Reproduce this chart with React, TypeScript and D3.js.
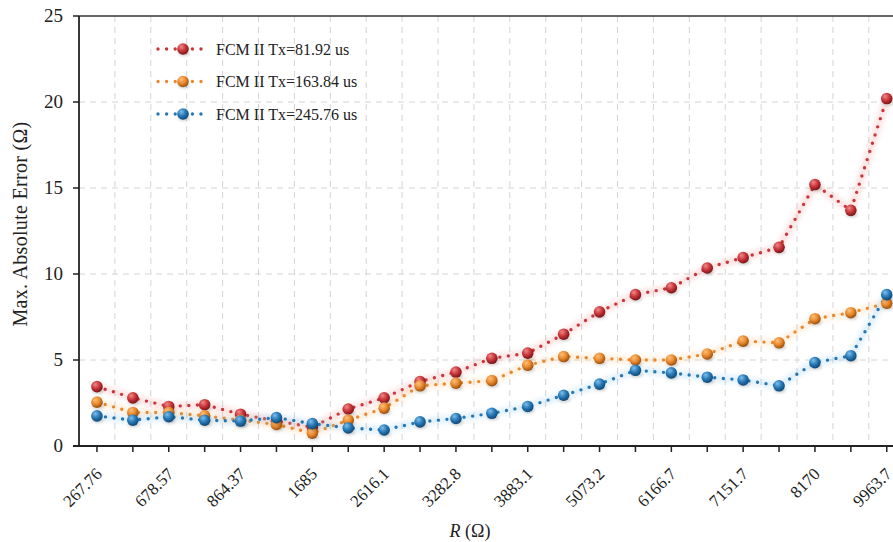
import React from "react";
import * as d3 from "d3";

const categories = ["267.76","","678.57","","864.37","","1685","","2616.1","","3282.8","","3883.1","","5073.2","","6166.7","","7151.7","","8170","","9963.7"];
const seriesNames = ["FCM II Tx=81.92 us","FCM II Tx=163.84 us","FCM II Tx=245.76 us"];
const red = [3.45,2.8,2.3,2.4,1.85,1.45,1.1,2.15,2.8,3.75,4.3,5.1,5.4,6.5,7.8,8.8,9.2,10.35,10.95,11.55,15.2,13.7,20.2];
const orange = [2.55,1.95,1.95,1.75,1.5,1.25,0.75,1.5,2.2,3.5,3.65,3.8,4.7,5.2,5.1,5.0,5.0,5.35,6.1,6.0,7.4,7.75,8.3];
const blue = [1.75,1.5,1.7,1.5,1.45,1.65,1.3,1.05,0.93,1.4,1.6,1.9,2.3,2.95,3.6,4.4,4.25,4.0,3.84,3.5,4.85,5.25,8.8];
const yTicks = [0,5,10,15,20,25];
const colors = ["#c8353a","#e8892e","#2678b5"];
const lightColors = ["#f08a88","#ffc07a","#7fc0ee"];
const darkColors = ["#7a1418","#9a4f0a","#0f4876"];

const W = 893, H = 542;
const left = 79, top = 16, bottom = 446;
const band = 35.9;

export default function App() {
  const series = [red, orange, blue];
  const x = d3.scaleBand<number>().domain(categories.map((_, i) => i)).range([left, left + band * categories.length]).padding(0);
  const cx = (i: number) => (x(i) as number) + x.bandwidth() / 2;
  const y = d3.scaleLinear().domain([0, 25]).range([bottom, top]);
  const line = d3.line<number>().x((_, i) => cx(i)).y((d) => y(d));
  const font = "'Liberation Serif', 'DejaVu Serif', serif";
  const right = left + band * categories.length;

  const Marker = ({ px, py, k }: { px: number; py: number; k: number }) => (
    <g>
      <ellipse cx={px + 1} cy={py + 4} rx={6} ry={3} fill="#000" opacity={0.18} filter="url(#blur2)" />
      <circle cx={px} cy={py} r={5.8} fill={`url(#grad${k})`} />
    </g>
  );

  return (
    <svg width={W} height={H} style={{ position: "absolute", left: 0, top: 0, background: "#fff" }} fontFamily={font}>
      <defs>
        {colors.map((c, k) => (
          <radialGradient key={k} id={`grad${k}`} cx="0.4" cy="0.35" r="0.65" fx="0.35" fy="0.3">
            <stop offset="0%" stopColor={lightColors[k]} />
            <stop offset="55%" stopColor={c} />
            <stop offset="100%" stopColor={darkColors[k]} />
          </radialGradient>
        ))}
        <filter id="blur2" x="-50%" y="-50%" width="200%" height="200%">
          <feGaussianBlur stdDeviation="1.5" />
        </filter>
        <filter id="blur3" x="-10%" y="-10%" width="120%" height="120%">
          <feGaussianBlur stdDeviation="2.5" />
        </filter>
      </defs>
      {categories.map((_, i) => i > 0 ? (
        <line key={"vg" + i} x1={x(i)} x2={x(i)} y1={top} y2={bottom} stroke="#d4d4d4" strokeWidth={1} strokeDasharray="6 5" />
      ) : null)}
      {yTicks.filter((t) => t > 0 && t < 25).map((t) => (
        <line key={"hg" + t} x1={left} x2={right} y1={y(t)} y2={y(t)} stroke="#d4d4d4" strokeWidth={1} strokeDasharray="6 5" />
      ))}
      {series.map((s, k) => (
        <g key={"s" + k}>
          <path d={line(s) as string} fill="none" stroke={lightColors[k]} strokeWidth={7} opacity={0.25} filter="url(#blur3)" />
          <path d={line(s) as string} fill="none" stroke={colors[k]} strokeWidth={3.4} strokeDasharray="0 8.6" strokeLinecap="round" />
        </g>
      ))}
      {series.map((s, k) => (
        <g key={"m" + k}>
          {s.map((v, i) => <Marker key={i} px={cx(i)} py={y(v)} k={k} />)}
        </g>
      ))}
      <line x1={left} x2={right} y1={top} y2={top} stroke="#333" strokeWidth={1.5} />
      <line x1={left} x2={left} y1={top} y2={bottom} stroke="#222" strokeWidth={1.8} />
      <line x1={left - 6} x2={right} y1={bottom} y2={bottom} stroke="#222" strokeWidth={1.8} />
      {yTicks.map((t) => (
        <g key={"yt" + t}>
          <line x1={left - 6} x2={left} y1={y(t)} y2={y(t)} stroke="#222" strokeWidth={1.5} />
          <text x={left - 16} y={y(t)} dy="0.33em" textAnchor="end" fontSize={19} fill="#222">{t}</text>
        </g>
      ))}
      {categories.map((c, i) => (
        <g key={"xt" + i}>
          <line x1={cx(i)} x2={cx(i)} y1={bottom} y2={bottom + 6} stroke="#222" strokeWidth={1.5} />
          {c ? (
            <text transform={`translate(${cx(i) + 6},${bottom + 29}) rotate(-45)`} textAnchor="end" fontSize={17} fill="#222">{c}</text>
          ) : null}
        </g>
      ))}
      <text transform={`translate(27,224) rotate(-90)`} textAnchor="middle" fontSize={20} letterSpacing={0.3} fill="#222">Max. Absolute Error (Ω)</text>
      <text x={470} y={537} textAnchor="middle" fontSize={18} fill="#222"><tspan fontStyle="italic">R</tspan> (Ω)</text>
      {seriesNames.map((n, k) => {
        const ly = 49 + k * 32.5;
        return (
          <g key={"lg" + k}>
            <line x1={158} x2={208} y1={ly} y2={ly} stroke={colors[k]} strokeWidth={3.4} strokeDasharray="0 8.6" strokeLinecap="round" />
            <Marker px={183} py={ly} k={k} />
            <text x={216} y={ly} dy="0.35em" fontSize={16} fill="#222">{n}</text>
          </g>
        );
      })}
    </svg>
  );
}
